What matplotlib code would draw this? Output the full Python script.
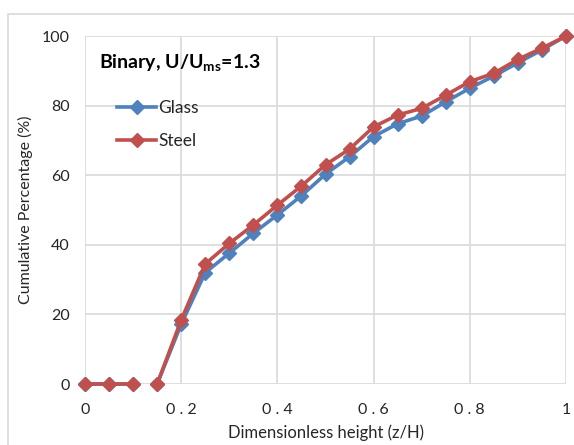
import matplotlib
matplotlib.use("Agg")
import matplotlib.pyplot as plt
from matplotlib.patches import Rectangle
from matplotlib.lines import Line2D

# Dimensionless height z/H and cumulative percentages
z = [0, 0.05, 0.1, 0.15, 0.2, 0.25, 0.3, 0.35, 0.4, 0.45, 0.5,
     0.55, 0.6, 0.65, 0.7, 0.75, 0.8, 0.85, 0.9, 0.95, 1.0]
glass = [0, 0, 0, 0, 17.2, 32.0, 37.6, 43.3, 48.6, 54.1, 60.3,
         65.3, 71.1, 74.8, 77.0, 81.1, 85.0, 88.5, 92.3, 96.0, 100]
steel = [0, 0, 0, 0, 18.4, 34.5, 40.4, 45.7, 51.4, 56.9, 63.0,
         67.5, 73.9, 77.3, 79.2, 83.0, 86.9, 89.3, 93.3, 96.5, 100]
# the two runs of each series (the line breaks between z=0.1 and z=0.15)
runs = [(0, 3), (3, len(z))]

x_ticks = [0, 0.2, 0.4, 0.6, 0.8, 1.0]
x_tick_labels = ["0", "0.2", "0.4", "0.6", "0.8", "1"]
y_ticks = [0, 20, 40, 60, 80, 100]

series = [("Glass", glass, "#4F81BD"), ("Steel", steel, "#C0504D")]

plt.rcParams["font.family"] = ["Lato", "DejaVu Sans"]
plt.rcParams["mathtext.fontset"] = "custom"
plt.rcParams["mathtext.rm"] = "Lato:bold"

W, H = 574, 445
fig = plt.figure(figsize=(W / 100, H / 100), dpi=100)

# chart-area border
fig.patches.append(Rectangle((8 / W, -0.1), 1.2, 1 - 14 / H + 0.1,
                             transform=fig.transFigure, fill=False,
                             edgecolor="#D9D9D9", linewidth=1.2))

ax = fig.add_axes([85 / W, 1 - 384 / H, (566 - 85) / W, (384 - 36) / H])
ax.set_xlim(0, 1)
ax.set_ylim(0, 100)
for s in ax.spines.values():
    s.set_visible(False)
ax.set_xticks(x_ticks)
# spaced-out digits on the horizontal axis
ax.set_xticklabels([" ".join(t) for t in x_tick_labels])
ax.set_yticks(y_ticks)
ax.tick_params(axis="x", length=0, labelsize=11.5, colors="#262626", pad=14)
ax.tick_params(axis="y", length=0, labelsize=11.5, colors="#262626", pad=11)
ax.grid(True, color="#D9D9D9", linewidth=1.2)
ax.set_axisbelow(True)

handles = []
for name, vals, col in series:
    for a, b in runs:
        ax.plot(z[a:b], vals[a:b], color=col, linewidth=2.6, marker="D",
                markersize=7.5, markeredgecolor=col, clip_on=False, zorder=3)
    handles.append(Line2D([], [], color=col, linewidth=2.6, marker="D",
                          markersize=7.5, label=name))

ax.legend(handles=handles, loc="upper left", bbox_to_anchor=(0.035, 0.86),
          frameon=False, fontsize=12.5, handlelength=2.2, handletextpad=0.15,
          labelspacing=0.95, labelcolor="#262626")

ax.text(0.03, 0.92, r"Binary, U/U$_{\mathrm{ms}}$=1.3", transform=ax.transAxes,
        fontsize=14, fontweight="bold", color="#000000", va="center", ha="left")

ax.set_xlabel("Dimensionless height (z/H)", fontsize=12, color="#262626",
              labelpad=5)
ax.set_ylabel("Cumulative Percentage (%)", fontsize=11.5, color="#262626",
              labelpad=6)

fig.savefig("out.png", dpi=100)
